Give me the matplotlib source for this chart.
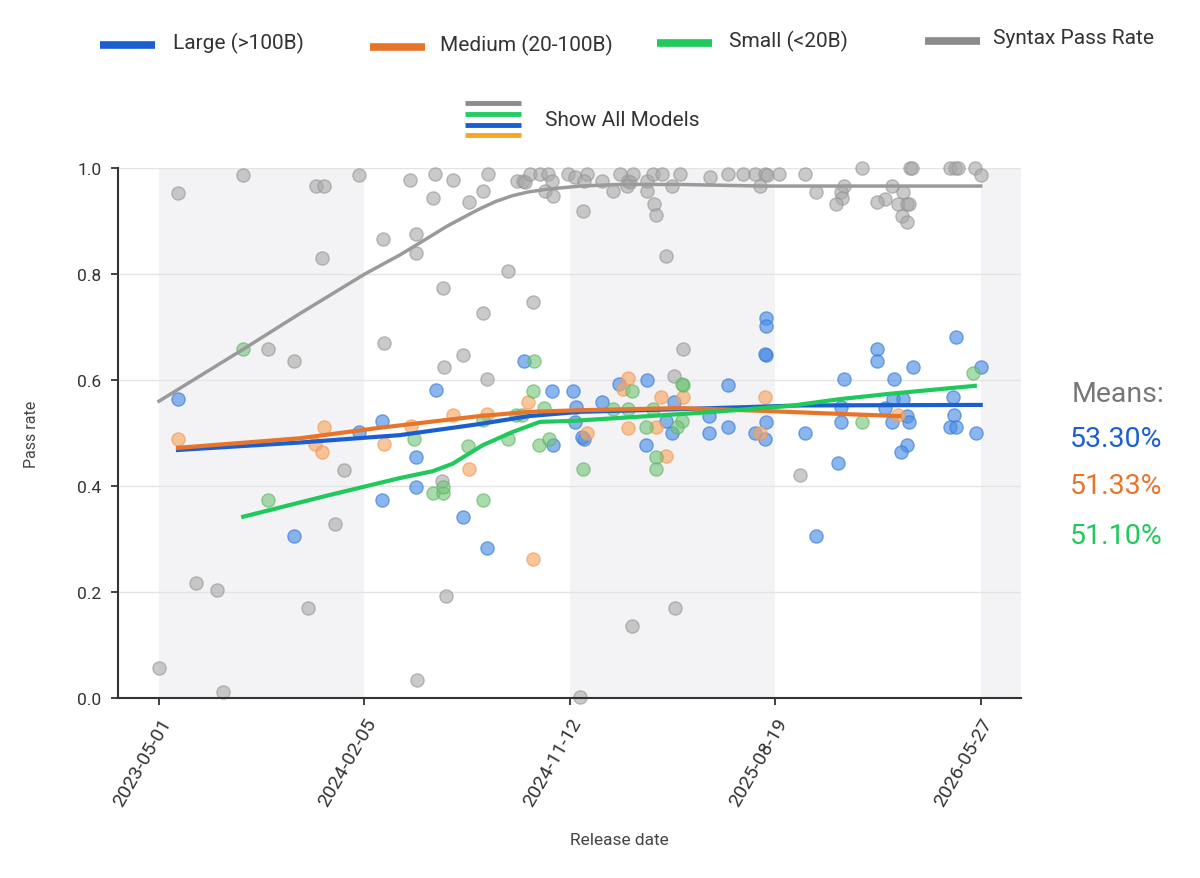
import numpy as np
import matplotlib
matplotlib.use("Agg")
import matplotlib.pyplot as plt
from matplotlib.lines import Line2D

plt.rcParams['font.family'] = ['Roboto', 'DejaVu Sans']

START = np.datetime64('2023-05-01')

# x values are days since 2023-05-01, y values are pass rates
syntax_days = [0, 26, 51, 79, 87, 115, 149, 184, 203, 214, 225, 222, 240, 253, 273, 306, 307,
               351, 351, 343, 377, 374, 401, 423, 442, 449, 476, 388, 442, 511, 415, 389, 448,
               386, 392, 352, 489, 497, 500, 506, 520, 531, 536, 527, 538, 558, 568, 584, 581,
               579, 605, 620, 629, 640, 643, 639, 647, 666, 667, 674, 687, 676, 678, 700, 711,
               692, 715, 703, 575, 646, 704, 752, 777, 797, 814, 827, 830, 820, 846, 882, 897,
               875, 936, 931, 932, 925, 960, 1001, 991, 981, 1016, 1009, 1021, 1024, 1014, 1021,
               1025, 1028, 1080, 1087, 1091, 1114, 1122]
syntax_rate = [0.057, 0.953, 0.217, 0.204, 0.011, 0.987, 0.658, 0.636, 0.170, 0.966, 0.966, 0.830,
               0.328, 0.430, 0.987, 0.866, 0.670, 0.875, 0.840, 0.977, 0.989, 0.943, 0.977, 0.936,
               0.957, 0.989, 0.806, 0.774, 0.726, 0.747, 0.647, 0.625, 0.602, 0.409, 0.192, 0.034,
               0.975, 0.975, 0.974, 0.989, 0.989, 0.989, 0.975, 0.957, 0.947, 0.989, 0.983, 0.989,
               0.975, 0.919, 0.975, 0.957, 0.989, 0.975, 0.974, 0.966, 0.989, 0.957, 0.975, 0.989,
               0.989, 0.932, 0.911, 0.966, 0.989, 0.834, 0.658, 0.608, 0.002, 0.136, 0.170, 0.983,
               0.989, 0.989, 0.989, 0.989, 0.987, 0.966, 0.989, 0.989, 0.955, 0.421, 0.966, 0.955,
               0.943, 0.932, 1.0, 0.966, 0.942, 0.936, 0.955, 0.932, 0.932, 0.932, 0.909, 0.898,
               1.0, 1.0, 1.0, 1.0, 1.0, 1.0, 0.987]

large_days = [26, 184, 273, 304, 304, 378, 498, 536, 566, 351, 351, 415, 448, 538, 568, 569, 580,
              577, 605, 628, 666, 665, 693, 700, 703, 829, 829, 829, 827, 777, 751, 751, 777, 814,
              829, 827, 882, 927, 897, 936, 931, 931, 981, 981, 1003, 1029, 991, 1002, 1016, 1001,
              1021, 1024, 1021, 1013, 1088, 1084, 1085, 1080, 1088, 1115, 1122]
large_rate = [0.564, 0.306, 0.502, 0.523, 0.374, 0.581, 0.636, 0.579, 0.579, 0.455, 0.398, 0.342,
              0.283, 0.477, 0.521, 0.549, 0.489, 0.492, 0.558, 0.592, 0.600, 0.477, 0.523, 0.500,
              0.558, 0.717, 0.702, 0.647, 0.649, 0.591, 0.532, 0.500, 0.511, 0.500, 0.521, 0.489,
              0.500, 0.443, 0.306, 0.602, 0.549, 0.521, 0.658, 0.636, 0.602, 0.625, 0.547, 0.564,
              0.564, 0.521, 0.532, 0.521, 0.477, 0.464, 0.681, 0.568, 0.534, 0.511, 0.511, 0.500,
              0.625]

medium_days = [26, 213, 222, 225, 307, 344, 401, 423, 504, 511, 640, 633, 584, 640, 685, 678,
               693, 715, 448, 827, 820, 1009]
medium_rate = [0.489, 0.479, 0.464, 0.511, 0.479, 0.513, 0.534, 0.432, 0.558, 0.262, 0.604, 0.583,
               0.500, 0.510, 0.568, 0.511, 0.457, 0.568, 0.536, 0.568, 0.500, 0.534]

small_days = [115, 149, 512, 511, 526, 487, 496, 348, 422, 476, 519, 532, 442, 374, 388, 388, 442,
              579, 620, 640, 674, 646, 665, 678, 678, 715, 714, 714, 708, 960, 1112]
small_rate = [0.658, 0.374, 0.636, 0.579, 0.547, 0.534, 0.534, 0.489, 0.475, 0.489, 0.477, 0.489,
              0.525, 0.387, 0.387, 0.398, 0.374, 0.432, 0.545, 0.545, 0.545, 0.579, 0.511, 0.455,
              0.432, 0.591, 0.592, 0.523, 0.511, 0.521, 0.613]

# smoothed trend lines
syntax_trend_days = [0, 115, 192, 281, 329, 360, 393, 420, 438, 460, 483, 505, 530, 575, 629,
                     711, 820, 943, 1122]
syntax_trend = [0.56, 0.658, 0.725, 0.80, 0.836, 0.862, 0.89, 0.91, 0.923, 0.937, 0.948, 0.955,
                0.96, 0.966, 0.969, 0.969, 0.966, 0.966, 0.966]
large_trend_days = [26, 192, 329, 438, 506, 575, 711, 875, 1122]
large_trend = [0.468, 0.482, 0.496, 0.517, 0.532, 0.54, 0.545, 0.552, 0.553]
medium_trend_days = [26, 192, 302, 438, 506, 575, 711, 820, 930, 1011]
medium_trend = [0.472, 0.49, 0.51, 0.532, 0.54, 0.543, 0.547, 0.542, 0.536, 0.532]
small_trend_days = [115, 233, 329, 374, 401, 442, 483, 520, 565, 647, 738, 861, 930, 998, 1114]
small_trend = [0.342, 0.383, 0.415, 0.428, 0.442, 0.477, 0.502, 0.521, 0.523, 0.53, 0.538,
               0.551, 0.564, 0.574, 0.589]

tick_dates = ['2023-05-01', '2024-02-05', '2024-11-12', '2025-08-19', '2026-05-27']
means = ['53.30%', '51.33%', '51.10%']

C_BLUE, C_ORANGE, C_GREEN, C_GRAY = '#1a5fd0', '#e8742c', '#1fc95c', '#8c8c8c'


def to_dates(days):
    return START + np.array(days).astype('timedelta64[D]')


fig = plt.figure(figsize=(12, 8.79), dpi=100)
ax = fig.add_axes([0.0983, 0.2048, 0.7525, 0.6029])

ticks = np.array(tick_dates, dtype='datetime64[D]')
x_max = START + np.timedelta64(1177, 'D')
# alternating background bands
for lo, hi in [(ticks[0], ticks[1]), (ticks[2], ticks[3]), (ticks[4], x_max)]:
    ax.axvspan(lo, hi, ymin=0, ymax=1, color='#f3f3f6', zorder=0, lw=0)

for v in [0.2, 0.4, 0.6, 0.8, 1.0]:
    ax.axhline(v, color='#e4e4e4', lw=1, zorder=0.5)

ax.scatter(to_dates(syntax_days), syntax_rate, s=90, color='#a8a8a8', alpha=0.6,
           edgecolors='#939393', linewidths=1, zorder=2, clip_on=False)
ax.plot(to_dates(syntax_trend_days), syntax_trend, color='#9a9a9a', lw=2.5, zorder=3)

ax.scatter(to_dates(large_days), large_rate, s=90, color='#4d8fe6', alpha=0.65,
           edgecolors='#3a7bd6', linewidths=1, zorder=2)
ax.scatter(to_dates(medium_days), medium_rate, s=90, color='#f8a866', alpha=0.65,
           edgecolors='#f29a55', linewidths=1, zorder=2)
ax.scatter(to_dates(small_days), small_rate, s=90, color='#72c476', alpha=0.6,
           edgecolors='#5cb462', linewidths=1, zorder=2)

ax.plot(to_dates(large_trend_days), large_trend, color=C_BLUE, lw=3, zorder=4)
ax.plot(to_dates(medium_trend_days), medium_trend, color=C_ORANGE, lw=3, zorder=4)
ax.plot(to_dates(small_trend_days), small_trend, color=C_GREEN, lw=3, zorder=4)

ax.set_xlim(START - np.timedelta64(56, 'D'), x_max)
ax.set_ylim(0, 1.0)
ax.set_xticks(ticks)
ax.set_xticklabels(tick_dates, rotation=60, ha='right', va='top', rotation_mode='anchor',
                   fontsize=14, color='#333333')
ax.set_yticks([0, 0.2, 0.4, 0.6, 0.8, 1.0])
ax.set_yticklabels(['0.0', '0.2', '0.4', '0.6', '0.8', '1.0'], fontsize=12.5, color='#333333')
ax.tick_params(axis='both', length=5, width=1.3, color='#333333', pad=7)
for side in ['top', 'right']:
    ax.spines[side].set_visible(False)
for side in ['left', 'bottom']:
    ax.spines[side].set_color('#333333')
    ax.spines[side].set_linewidth(1.5)
ax.set_xlabel('Release date', fontsize=12.5, color='#444444')
ax.set_ylabel('Pass rate', fontsize=11.5, color='#444444')
ax.yaxis.set_label_coords(-0.0875, 0.5)
ax.xaxis.set_label_coords(0.555, -0.253)

# top legend, drawn in figure pixels
W, H = 1200, 879


def leg_line(x0, x1, y, color, lw):
    fig.add_artist(Line2D([x0 / W, x1 / W], [1 - y / H, 1 - y / H], color=color, lw=lw,
                          transform=fig.transFigure, solid_capstyle='butt'))


legend_items = [('Large (>100B)', C_BLUE, 100, 46, 173, 43),
                ('Medium (20-100B)', C_ORANGE, 370, 48, 440, 45),
                ('Small (<20B)', C_GREEN, 657, 44, 729, 41),
                ('Syntax Pass Rate', C_GRAY, 925, 42, 993, 38)]
for label, col, lx, ly, tx, ty in legend_items:
    leg_line(lx, lx + 55, ly, col, 5.5)
    fig.text(tx / W, 1 - ty / H, label, fontsize=15, color='#333333', va='center', ha='left')

for y, col in zip([104, 115, 126, 136], ['#8c8c8c', '#22cc66', '#1a5fd0', '#f5a623']):
    leg_line(465, 521, y, col, 3.5)
fig.text(545 / W, 1 - 120 / H, 'Show All Models', fontsize=15, color='#333333',
         va='center', ha='left')

fig.text(1072 / W, 1 - 395 / H, 'Means:', fontsize=20.5, color='#777777', va='center')
for txt, col, y in zip(means, [C_BLUE, C_ORANGE, C_GREEN], [440, 487, 537]):
    fig.text(1070 / W, 1 - y / H, txt, fontsize=20.5, color=col, va='center')

fig.savefig('out.png', dpi=100, facecolor='white')
